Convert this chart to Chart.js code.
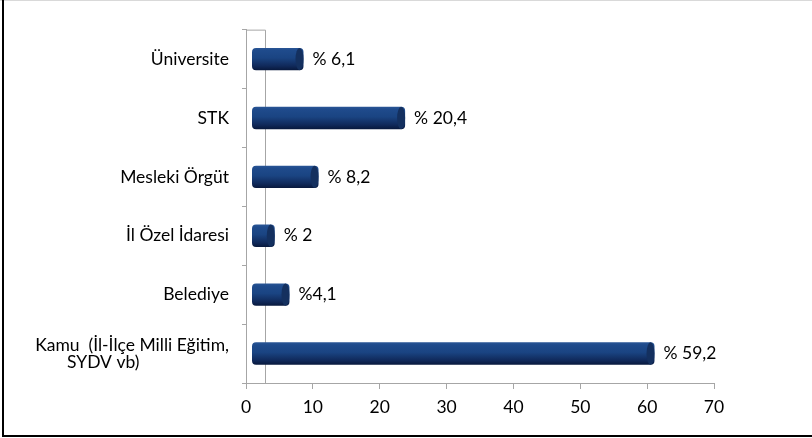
<!DOCTYPE html>
<html>
<head>
<meta charset="utf-8">
<script src="https://cdn.jsdelivr.net/npm/chart.js@4.4.0/dist/chart.umd.min.js"></script>
<style>
html, body { margin: 0; padding: 0; background: #fff; }
#wrap { position: relative; width: 812px; height: 438px; }
</style>
</head>
<body>
<div id="wrap"><canvas id="graphCanvas"></canvas></div>
<script>
// categories, top to bottom
var categories = ['Üniversite', 'STK', 'Mesleki Örgüt', 'İl Özel İdaresi', 'Belediye',
    ['Kamu  (İl-İlçe Milli Eğitim,', 'SYDV vb)']];
var percentLabels = ['% 6,1', '% 20,4', '% 8,2', '% 2', '%4,1', '% 59,2'];
// bar ends as read on the front axis (3D bars are drawn a bit longer than the label)
var barStart = 0.9;
var barEnd = [8.6, 23.8, 10.85, 4.3, 6.5, 61.1];
var xTicks = [0, 10, 20, 30, 40, 50, 60, 70];

var axisGrey = '#a6a6a6';
var font = { family: 'Lato', size: 17.5 };

function barFill(ctx) {
    var chart = ctx.chart;
    if (!chart.chartArea || !chart.scales.y) return '#1b4281';
    var y = chart.scales.y.getPixelForValue(ctx.dataIndex);
    var h = 23;
    var g = chart.ctx.createLinearGradient(0, y - h / 2, 0, y + h / 2);
    g.addColorStop(0, '#2b5797');
    g.addColorStop(0.12, '#1f4b8c');
    g.addColorStop(0.45, '#1a4482');
    g.addColorStop(0.8, '#10295a');
    g.addColorStop(1, '#07173a');
    return g;
}

var framePlugin = {
    id: 'frame',
    beforeDraw: function (chart) {
        var c = chart.ctx;
        c.save();
        c.fillStyle = '#fff';
        c.fillRect(0, 0, chart.width, chart.height);
        c.strokeStyle = '#d9d9d9';
        c.lineWidth = 1;
        c.beginPath(); c.moveTo(0, 0.5); c.lineTo(chart.width, 0.5); c.stroke();
        c.strokeStyle = '#000';
        c.lineWidth = 2;
        c.beginPath(); c.moveTo(3, 0); c.lineTo(3, 437); c.stroke();
        c.beginPath(); c.moveTo(2, 436); c.lineTo(chart.width, 436); c.stroke();
        c.restore();
    },
    beforeDatasetsDraw: function (chart) {
        // back wall edge of the 3D plot
        var a = chart.chartArea, c = chart.ctx;
        c.save();
        c.strokeStyle = axisGrey;
        c.lineWidth = 1;
        c.beginPath();
        c.moveTo(a.left, a.top + 0.5);
        c.lineTo(a.left + 19.5, a.top + 0.5);
        c.lineTo(a.left + 19.5, a.bottom);
        c.stroke();
        c.restore();
    },
    afterDatasetsDraw: function (chart) {
        var c = chart.ctx;
        var meta = chart.getDatasetMeta(0);
        c.save();
        meta.data.forEach(function (bar, i) {
            var h = bar.height;
            c.fillStyle = '#14305f';
            c.beginPath();
            c.ellipse(bar.x - 4, bar.y, 4, h / 2, 0, 0, Math.PI * 2);
            c.fill();
            c.fillStyle = '#000';
            c.font = '17.5px Lato';
            c.textAlign = 'left';
            c.textBaseline = 'middle';
            c.fillText(percentLabels[i], bar.x + 9, bar.y);
        });
        c.restore();
    }
};

new Chart(document.getElementById('graphCanvas'), {
    type: 'bar',
    data: {
        labels: categories,
        datasets: [{
            data: barEnd.map(function (v) { return [barStart, v]; }),
            backgroundColor: barFill,
            borderWidth: 0,
            borderRadius: 4,
            borderSkipped: false,
            barPercentage: 0.38,
            categoryPercentage: 1
        }]
    },
    options: {
        indexAxis: 'y',
        responsive: true,
        maintainAspectRatio: false,
        animation: false,
        layout: { padding: { top: 22, right: 98, bottom: 0, left: 0 } },
        plugins: { legend: { display: false }, tooltip: { enabled: false } },
        scales: {
            y: {
                type: 'category',
                grid: { drawOnChartArea: false, color: axisGrey, tickLength: 4, offset: true },
                border: { color: axisGrey },
                ticks: {
                    color: '#000',
                    font: { family: 'Lato', size: 17.5, lineHeight: 0.95 },
                    padding: 13,
                    callback: function (v, i) {
                        var c = categories[i];
                        if (Array.isArray(c)) return [c[0], c[1] + '\u00A0'.repeat(20)];
                        return c;
                    }
                },
                afterFit: function (s) { s.width = 246; }
            },
            x: {
                min: 0,
                max: 70,
                grid: { drawOnChartArea: false, color: axisGrey, tickLength: 6 },
                border: { color: axisGrey },
                ticks: { color: '#000', font: font, padding: 8 },
                afterBuildTicks: function (s) { s.ticks = xTicks.map(function (v) { return { value: v }; }); },
                afterFit: function (s) { s.height = 55; }
            }
        }
    },
    plugins: [framePlugin]
});
</script>
</body>
</html>
